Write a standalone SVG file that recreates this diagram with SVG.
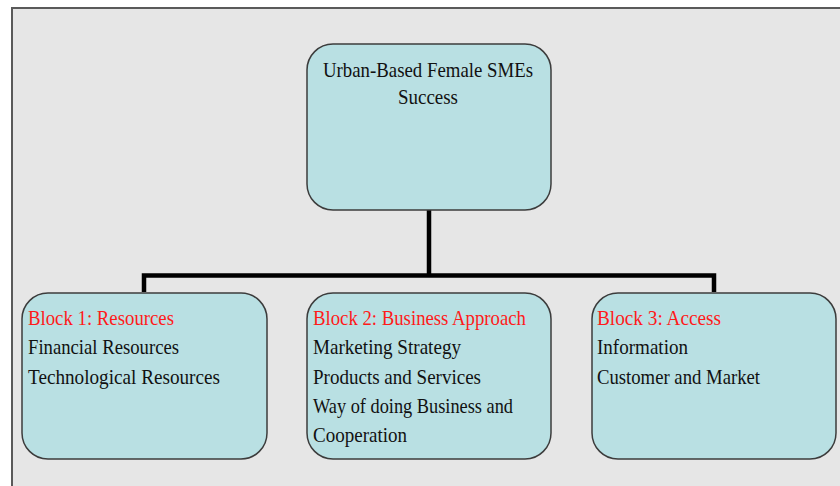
<svg xmlns="http://www.w3.org/2000/svg" width="840" height="486" viewBox="0 0 840 486">
  <style>
    .box { fill: #b9e0e3; stroke: #3c3c3c; stroke-width: 1.5; }
    .t { font-family: "Liberation Serif", "Times New Roman", serif; font-size: 22px; fill: #111; }
    .h { fill: #ff1a1a; }
    .wire { fill: none; stroke: #000; stroke-width: 4.5; stroke-linejoin: miter; }
  </style>
  <rect x="0" y="0" width="840" height="486" fill="#ffffff"/>
  <!-- panel -->
  <rect x="12" y="8" width="840" height="490" fill="#e6e6e6" stroke="#5a5a5a" stroke-width="2"/>

  <g id="connectors">
    <path class="wire" d="M429 210 V275.5"/>
    <path class="wire" d="M144 292 V275.5 H714 V292"/>
  </g>

  <g id="node-root">
    <rect class="box" x="307" y="44" width="244" height="166" rx="26" ry="26"/>
    <text class="t" x="323" y="77" textLength="210" lengthAdjust="spacingAndGlyphs">Urban-Based Female SMEs</text>
    <text class="t" x="398" y="104" textLength="60" lengthAdjust="spacingAndGlyphs">Success</text>
  </g>

  <g id="node-block1">
    <rect class="box" x="22" y="293" width="245" height="166" rx="26" ry="26"/>
    <text class="t h" x="28" y="325" textLength="146" lengthAdjust="spacingAndGlyphs">Block 1: Resources</text>
    <text class="t" x="28" y="354" textLength="151" lengthAdjust="spacingAndGlyphs">Financial Resources</text>
    <text class="t" x="28" y="384" textLength="192" lengthAdjust="spacingAndGlyphs">Technological Resources</text>
  </g>

  <g id="node-block2">
    <rect class="box" x="307" y="293" width="244" height="166" rx="26" ry="26"/>
    <text class="t h" x="313" y="325" textLength="213" lengthAdjust="spacingAndGlyphs">Block 2: Business Approach</text>
    <text class="t" x="313" y="354" textLength="148" lengthAdjust="spacingAndGlyphs">Marketing Strategy</text>
    <text class="t" x="313" y="384" textLength="168" lengthAdjust="spacingAndGlyphs">Products and Services</text>
    <text class="t" x="313" y="413" textLength="200" lengthAdjust="spacingAndGlyphs">Way of doing Business and</text>
    <text class="t" x="313" y="442" textLength="94" lengthAdjust="spacingAndGlyphs">Cooperation</text>
  </g>

  <g id="node-block3">
    <rect class="box" x="592" y="293" width="244" height="166" rx="26" ry="26"/>
    <text class="t h" x="597" y="325" textLength="124" lengthAdjust="spacingAndGlyphs">Block 3: Access</text>
    <text class="t" x="597" y="354" textLength="91" lengthAdjust="spacingAndGlyphs">Information</text>
    <text class="t" x="597" y="384" textLength="163" lengthAdjust="spacingAndGlyphs">Customer and Market</text>
  </g>
</svg>
